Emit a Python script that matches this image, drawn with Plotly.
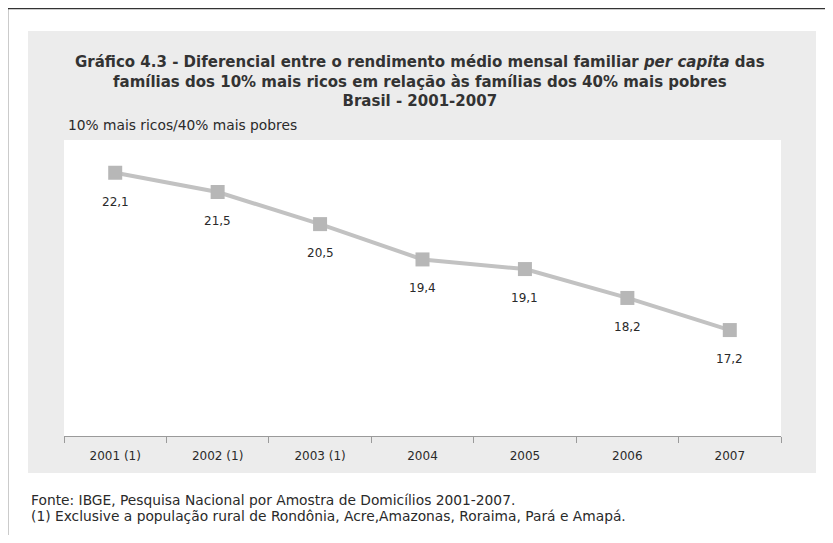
import plotly.graph_objects as go

categories = ["2001 (1)", "2002 (1)", "2003 (1)", "2004", "2005", "2006", "2007"]
values = [22.1, 21.5, 20.5, 19.4, 19.1, 18.2, 17.2]
value_labels = ["22,1", "21,5", "20,5", "19,4", "19,1", "18,2", "17,2"]

title_text = ("Gráfico 4.3 - Diferencial entre o rendimento médio mensal familiar <i>per capita</i> das<br>"
              "famílias dos 10% mais ricos em relação às famílias dos 40% mais pobres<br>"
              "Brasil - 2001-2007")
y_label = "10% mais ricos/40% mais pobres"
footnote_lines = ["Fonte: IBGE, Pesquisa Nacional por Amostra de Domicílios 2001-2007.",
                  "(1) Exclusive a população rural de Rondônia, Acre,Amazonas, Roraima, Pará e Amapá."]

# page has an 8px body margin; the figure is sized to fit inside the 833x543 window
OFF = 8
W, H = 833 - 2 * OFF, 543 - 2 * OFF
# plot area in reference-image pixels: x 64..781, y 140..436
L = 64 - OFF
T = 140 - OFF
R = W - (781 - OFF)
B = H - (436 - OFF)
PW, PH = W - L - R, H - T - B


def px(x):
    return (x - OFF - L) / PW


def py(y):
    return (H - B - (y - OFF)) / PH


FONT = "DejaVu Sans, Liberation Sans, Arial, sans-serif"

fig = go.Figure()
fig.add_trace(go.Scatter(
    x=categories, y=values, mode="lines+markers",
    line=dict(color="#c2c2c2", width=4),
    marker=dict(symbol="square", size=14, color="#b7b7b7"),
    hoverinfo="skip", showlegend=False,
))

annotations = []
for i, (v, t) in enumerate(zip(values, value_labels)):
    annotations.append(dict(x=i, y=v, xref="x", yref="y", text=t, showarrow=False,
                            yshift=-29, font=dict(family=FONT, size=12, color="#2a2a2a")))

annotations.append(dict(x=px(420), y=py(81.5), xref="paper", yref="paper", text="<b>" + title_text + "</b>",
                        showarrow=False, xanchor="center", yanchor="middle", align="center",
                        font=dict(family=FONT, size=15, color="#333333")))
annotations.append(dict(x=px(66), y=py(125), xref="paper", yref="paper", text=y_label,
                        showarrow=False, xanchor="left", yanchor="middle",
                        font=dict(family=FONT, size=13.8, color="#2a2a2a")))
for line_text, ly in zip(footnote_lines, [500, 515.5]):
    annotations.append(dict(x=px(29), y=py(ly), xref="paper", yref="paper", text=line_text,
                            showarrow=False, xanchor="left", yanchor="middle", align="left",
                            font=dict(family=FONT, size=13.8, color="#2a2a2a")))

shapes = [
    dict(type="rect", xref="paper", yref="paper", x0=px(28), x1=px(816), y0=py(473), y1=py(31),
         fillcolor="#ececec", line=dict(width=0), layer="below"),
    dict(type="rect", xref="paper", yref="paper", x0=0, x1=1, y0=0, y1=1,
         fillcolor="#ffffff", line=dict(width=0), layer="below"),
    dict(type="line", xref="paper", yref="paper", x0=px(7), x1=px(840), y0=py(8.5), y1=py(8.5),
         line=dict(color="#333333", width=1.5)),
    dict(type="line", xref="paper", yref="paper", x0=px(7.5), x1=px(7.5), y0=py(8), y1=py(550),
         line=dict(color="#333333", width=1.5)),
]

fig.update_layout(
    width=W, height=H,
    margin=dict(l=L, r=R, t=T, b=B),
    paper_bgcolor="#ffffff",
    plot_bgcolor="rgba(0,0,0,0)",
    showlegend=False,
    annotations=annotations,
    shapes=shapes,
    xaxis=dict(type="category", range=[-0.5, len(categories) - 0.5], showgrid=False, zeroline=False,
               showline=True, linecolor="#9a9a9a", linewidth=1, ticks="outside", tickson="boundaries",
               ticklen=6, tickcolor="#9a9a9a", tickangle=0, ticklabelstandoff=9,
               tickfont=dict(family=FONT, size=12, color="#2a2a2a"), fixedrange=True),
    yaxis=dict(range=[13.9, 23.12], visible=False, showgrid=False, zeroline=False, fixedrange=True),
)

fig.write_html("out.html")
